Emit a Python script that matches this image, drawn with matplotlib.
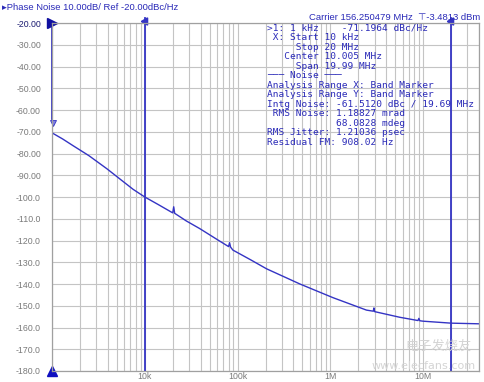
import matplotlib
matplotlib.use('Agg')
import matplotlib.pyplot as plt
from matplotlib.ticker import FixedLocator, NullFormatter

# trace (offset frequency in Hz, dBc/Hz)
freq_hz = [1.0e3, 1.3e3, 1.7e3, 2.5e3, 3.9e3, 5.5e3, 7.5e3, 1.0e4, 1.4e4, 2.0e4,
           2.05e4, 2.1e4, 2.8e4, 3.9e4, 6.0e4, 8.0e4, 8.2e4, 8.4e4, 8.9e4, 1.4e5,
           2.05e5, 4.7e5, 1.07e6, 2.45e6, 2.9e6, 2.95e6, 3.0e6, 5.6e6, 8.8e6, 9.0e6,
           9.2e6, 1.0e7, 2.0e7, 4.0e7]
noise_dbc = [-70.5, -73.3, -76.5, -81.0, -87.0, -92.0, -96.5, -100.0, -103.5, -107.3,
             -104.5, -107.5, -111.0, -114.5, -119.5, -122.8, -121.0, -123.0, -124.4, -129.0,
             -133.0, -140.0, -146.3, -152.0, -152.5, -151.0, -152.7, -155.3, -156.8, -155.8,
             -156.9, -157.1, -158.0, -158.3]

x_ticks = [1e4, 1e5, 1e6, 1e7]
x_tick_labels = ['10k', '100k', '1M', '10M']
y_ticks = [-20, -30, -40, -50, -60, -70, -80, -90, -100, -110, -120, -130, -140, -150, -160, -170, -180]
y_tick_labels = ['-20.00', '-30.00', '-40.00', '-50.00', '-60.00', '-70.00', '-80.00', '-90.00',
                 '-100.0', '-110.0', '-120.0', '-130.0', '-140.0', '-150.0', '-160.0', '-170.0', '-180.0']
band_markers = [1e4, 2e7]

readout = [
    '>1: 1 kHz    -71.1964 dBc/Hz',
    ' X: Start 10 kHz',
    '     Stop 20 MHz',
    '   Center 10.005 MHz',
    '     Span 19.99 MHz',
    '\u2500\u2500\u2500 Noise \u2500\u2500\u2500',
    'Analysis Range X: Band Marker',
    'Analysis Range Y: Band Marker',
    'Intg Noise: -61.5120 dBc / 19.69 MHz',
    ' RMS Noise: 1.18827 mrad',
    '            68.0828 mdeg',
    'RMS Jitter: 1.21036 psec',
    'Residual FM: 908.02 Hz',
]

W, H = 484, 382
BLUE = '#3434c4'
TXT = '#2a2ab8'
GRID = '#c4c4c4'
LBL = '#7a7a7a'

fig = plt.figure(figsize=(W / 100, H / 100), dpi=100)
ax = fig.add_axes([52 / W, (H - 371) / H, (479 - 52) / W, (371 - 23) / H])
ax.set_xscale('log')
ax.set_xlim(1e3, 4e7)
ax.set_ylim(-180, -20)

minor = [m * 10 ** e for e in range(3, 8) for m in range(1, 10) if m * 10 ** e <= 4e7]
ax.xaxis.set_major_locator(FixedLocator(x_ticks))
ax.xaxis.set_minor_locator(FixedLocator(minor))
ax.xaxis.set_minor_formatter(NullFormatter())
ax.set_xticklabels(x_tick_labels)
ax.set_yticks(y_ticks)
ax.set_yticklabels(y_tick_labels)
ax.grid(True, which='both', color=GRID, lw=0.8)
ax.set_axisbelow(True)
ax.tick_params(which='both', length=0, labelsize=6.3, labelcolor=LBL)
ax.tick_params(axis='y', pad=8)
ax.tick_params(axis='x', pad=0.5)
for lab in ax.get_xticklabels() + ax.get_yticklabels():
    lab.set_family('Liberation Sans')
ax.get_yticklabels()[0].set_color('#1a1a70')
for s in ax.spines.values():
    s.set_color('#a0a0a0')
    s.set_linewidth(0.9)

# band markers
for f in band_markers:
    ax.axvline(f, color=BLUE, lw=1.3, ymin=0, ymax=1.015, clip_on=False)
    ax.plot([f], [-19.0], marker=(3, 0, -30), ms=6, color=BLUE, clip_on=False)

# marker 1 at 1 kHz
ax.plot([1e3, 1e3], [-20, -64], color=BLUE, lw=1.3, clip_on=False)
ax.plot([1.03e3], [-66], marker='v', ms=5, color='#8080e0', mec=BLUE, mew=0.6, clip_on=False)

ax.plot(freq_hz, noise_dbc, color=BLUE, lw=1.0)

# reference / start indicators
ax.plot([1e3], [-20], marker='>', ms=7, color='#1010a0', clip_on=False)
ax.plot([1e3], [-180], marker='^', ms=7, color='#1010c0', clip_on=False)

fig.text(2 / W, 1 - 7 / H, '\u25b8Phase Noise 10.00dB/ Ref -20.00dBc/Hz', color=TXT,
         fontsize=6.8, family=['Liberation Sans', 'DejaVu Sans'], va='center', ha='left')
fig.text(480 / W, 1 - 17 / H, 'Carrier 156.250479 MHz  \u22a4-3.4813 dBm', color=TXT,
         fontsize=6.8, family=['Liberation Sans', 'DejaVu Sans'], va='center', ha='right')

y0 = 28.3
for i, line in enumerate(readout):
    fig.text(267 / W, 1 - (y0 + i * 9.5) / H, line, color=TXT, fontsize=6.8,
             family='DejaVu Sans Mono', va='center', ha='left')

# watermark
fig.text(405 / W, 1 - 346 / H, '电子发烧友', color='#d4d4d4', fontsize=9.5,
         family=['Noto Sans CJK SC', 'DejaVu Sans'], ha='left', va='center', style='italic')
fig.text(476 / W, 1 - 366 / H, 'www.elecfans.com', color='#d4d4d4', fontsize=8,
         family='DejaVu Sans', ha='right', va='center')

fig.savefig('out.png', dpi=100, facecolor='white')
